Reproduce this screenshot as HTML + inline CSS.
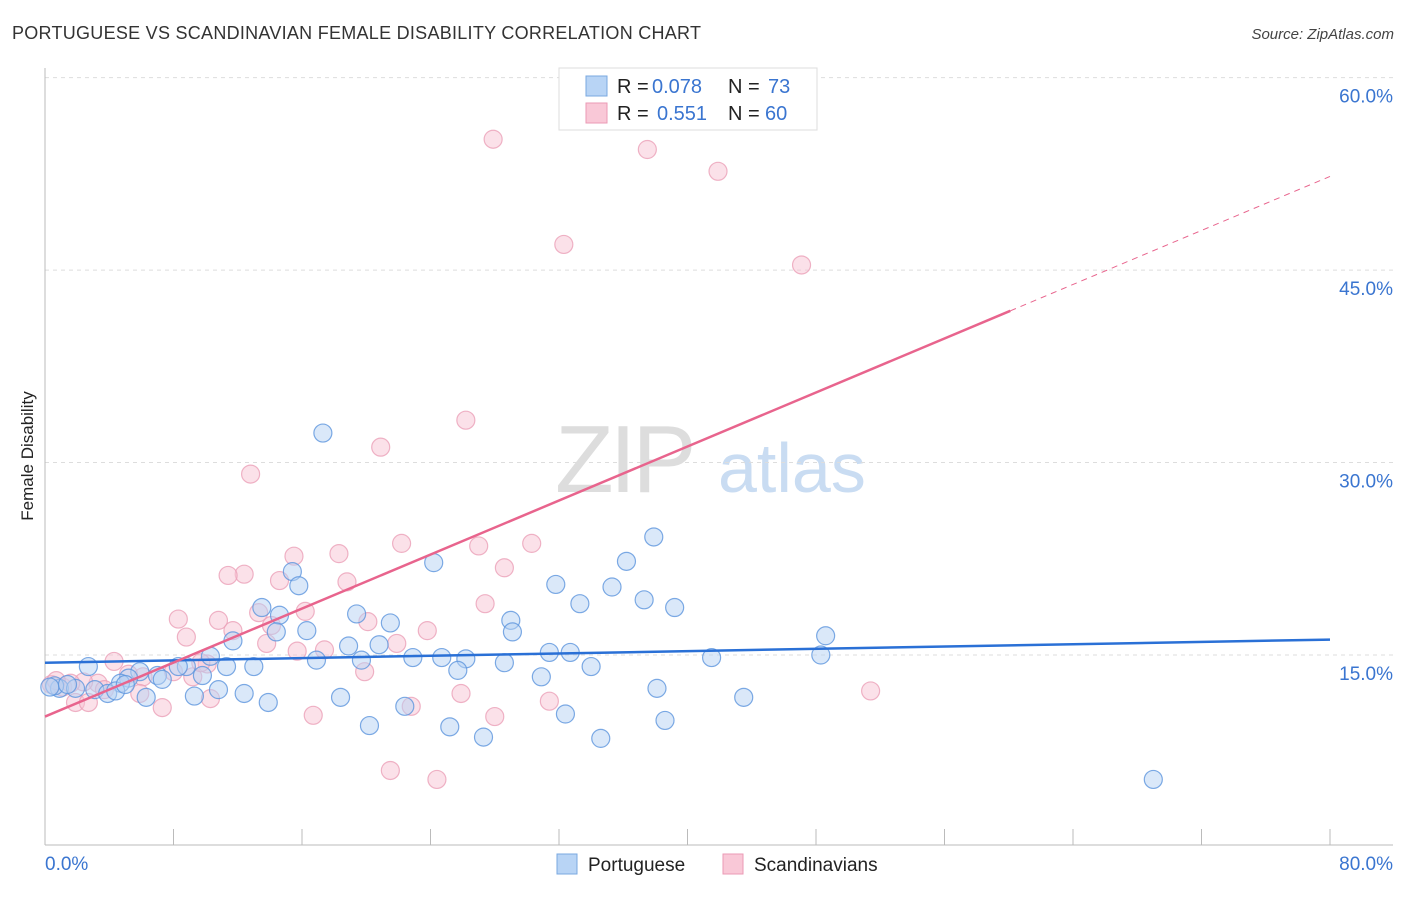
<!DOCTYPE html>
<html><head><meta charset="utf-8"><style>
body{margin:0;background:#fff;font-family:"Liberation Sans",sans-serif;}
svg text{font-family:"Liberation Sans",sans-serif;}
</style></head><body>
<svg id="chart" width="1406" height="892" xmlns="http://www.w3.org/2000/svg">
<text x="12" y="39" font-size="18" fill="#333" textLength="689">PORTUGUESE VS SCANDINAVIAN FEMALE DISABILITY CORRELATION CHART</text>
<text x="1394" y="39" font-size="15" fill="#444" text-anchor="end" font-style="italic">Source: ZipAtlas.com</text>
<text transform="translate(33,456) rotate(-90)" font-size="17" fill="#222" text-anchor="middle">Female Disability</text>
<g><text x="555" y="492" font-size="96" fill="#ddd" font-family="Liberation Serif" letter-spacing="-4">ZIP</text><text x="718" y="492" font-size="70" fill="#c9dcf2">atlas</text></g>
<g id="grid"></g><g id="axes"></g><g id="pts"></g><g id="lines"></g>
<g>
<rect x="559" y="68" width="258" height="62" fill="#fff" stroke="#ddd"/>
<rect x="586" y="76" width="21" height="20" fill="#b8d4f5" stroke="#7aa8e0"/>
<rect x="586" y="103" width="21" height="20" fill="#f9c8d7" stroke="#eb9ab4"/>
<text x="617" y="93" font-size="20" fill="#222">R =</text><text x="652" y="93" font-size="20" fill="#3a75d0">0.078</text>
<text x="728" y="93" font-size="20" fill="#222">N =</text><text x="768" y="93" font-size="20" fill="#3a75d0">73</text>
<text x="617" y="120" font-size="20" fill="#222">R =</text><text x="657" y="120" font-size="20" fill="#3a75d0">0.551</text>
<text x="728" y="120" font-size="20" fill="#222">N =</text><text x="765" y="120" font-size="20" fill="#3a75d0">60</text>
</g>
<g>
<rect x="557" y="854" width="20" height="20" fill="#b8d4f5" stroke="#7aa8e0"/><text x="588" y="871" font-size="19" fill="#222">Portuguese</text>
<rect x="723" y="854" width="20" height="20" fill="#f9c8d7" stroke="#eb9ab4"/><text x="754" y="871" font-size="19" fill="#222">Scandinavians</text>
</g>
</svg>
<script>
const yTicks=[15,30,45,60];
const yTickLabels=["15.0%","30.0%","45.0%","60.0%"];
const xTickCount=10;
const portX=[17.3,37.9,36.2,24.2,15.4,15.8,31.8,35.3,37.3,33.3,13.5,39.2,19.4,14.6,21.5,29.0,29.1,16.3,14.4,11.7,48.6,18.9,20.8,31.4,32.7,10.3,48.3,41.5,22.9,24.7,26.2,19.7,16.9,28.6,34.0,2.7,8.8,11.3,13.0,25.7,8.3,5.9,7.0,5.2,4.7,7.3,30.9,0.9,1.9,3.1,3.9,0.6,10.8,12.4,9.3,6.3,13.9,18.4,38.1,43.5,22.4,32.4,38.6,20.2,25.2,27.3,34.6,69.0,0.3,1.4,4.4,5.0,9.8];
const portY=[32.3,24.2,22.3,22.2,21.5,20.4,20.5,20.3,19.3,19.0,18.7,18.7,18.2,18.1,17.5,17.7,16.8,16.9,16.8,16.1,16.5,15.7,15.8,15.2,15.2,14.9,15.0,14.8,14.8,14.8,14.7,14.6,14.6,14.4,14.1,14.1,14.1,14.1,14.1,13.8,14.1,13.7,13.4,13.2,12.8,13.1,13.3,12.4,12.4,12.3,12.0,12.6,12.3,12.0,11.8,11.7,11.3,11.7,12.4,11.7,11.0,10.4,9.9,9.5,9.4,8.6,8.5,5.3,12.5,12.7,12.2,12.7,13.4];
const scanX=[27.9,37.5,41.9,32.3,47.1,26.2,20.9,12.8,22.2,27.0,30.3,15.5,18.3,28.6,12.4,11.4,18.8,14.6,13.3,16.2,8.3,10.8,27.4,20.1,14.1,23.8,11.7,8.8,13.8,21.9,15.7,17.4,4.3,19.9,10.1,9.2,5.2,8.0,6.1,3.3,2.4,1.1,1.6,3.7,5.9,1.9,2.7,7.3,10.3,25.9,31.4,16.7,22.8,28.0,51.4,21.5,24.4,9.7,0.4,0.7];
const scanY=[55.2,54.4,52.7,47.0,45.4,33.3,31.2,29.1,23.7,23.5,23.7,22.7,22.9,21.8,21.3,21.2,20.7,20.8,18.3,18.4,17.8,17.7,19.0,17.6,17.3,16.9,16.9,16.4,15.9,15.9,15.3,15.4,14.5,13.7,14.3,13.3,13.5,13.7,13.3,12.8,12.9,12.5,12.8,12.3,12.0,11.3,11.3,10.9,11.6,12.0,11.4,10.3,11.0,10.2,12.2,6.0,5.3,14.4,12.7,13.0];
const portTrend=[14.4,16.2];
const scanTrend=[10.2,52.3];
const scanSolidEnd=60.1;
const NS="http://www.w3.org/2000/svg";
const X0=45,X1=1330,Y0=655,PPY=12.83;
function sx(v){return X0+(X1-X0)*v/80;}
function sy(v){return Y0-(v-15)*PPY;}
function mk(p,t,a){const e=document.createElementNS(NS,t);for(const k in a)e.setAttribute(k,a[k]);p.appendChild(e);return e;}
const grid=document.getElementById('grid'),axes=document.getElementById('axes'),pts=document.getElementById('pts'),lines=document.getElementById('lines');
yTicks.forEach((v,i)=>{
 const l=mk(grid,'line',{x1:45,x2:1393,y1:sy(v),y2:sy(v),stroke:'#ddd','stroke-dasharray':'4,4'});
 
 
 const t=mk(grid,'text',{x:1393,y:sy(v)+25,'font-size':19,fill:'#3a75d0','text-anchor':'end'});
 t.textContent=yTickLabels[i];
 
 
});
const ax=mk(axes,'line',{x1:45,x2:1393,y1:845,y2:845,stroke:'#bbb'});


const ay=mk(axes,'line',{x1:45,x2:45,y1:68,y2:845,stroke:'#bbb'});


for(let i=1;i<=xTickCount;i++){const x=sx(i*8);const t=mk(axes,'line',{x1:x,x2:x,y1:829,y2:845,stroke:'#bbb'});
 
 }
[['0.0%',45,'start'],['80.0%',1393,'end']].forEach(a=>{const t=mk(axes,'text',{x:a[1],y:870,'font-size':19,fill:'#3a75d0','text-anchor':a[2]});t.textContent=a[0];
 
 });
function dots(X,Y,f,s,name){for(let i=0;i<X.length;i++){const c=mk(pts,'circle',{cx:sx(X[i]),cy:sy(Y[i]),r:9,fill:f,'fill-opacity':0.5,stroke:s,'stroke-opacity':0.8,'stroke-width':1.2});
 
 }}
dots(scanX,scanY,'#f7c3d3','#eba0b8','scandinavian-point');
dots(portX,portY,'#b6d1f3','#5c95dd','portuguese-point');
const bl=mk(lines,'line',{x1:sx(0),y1:sy(portTrend[0]),x2:sx(80),y2:sy(portTrend[1]),stroke:'#2a70d6','stroke-width':2.5});


const sl=(scanTrend[1]-scanTrend[0])/80;
const pl=mk(lines,'line',{x1:sx(0),y1:sy(scanTrend[0]),x2:sx(scanSolidEnd),y2:sy(scanTrend[0]+sl*scanSolidEnd),stroke:'#e8648d','stroke-width':2.5});


const pd=mk(lines,'line',{x1:sx(scanSolidEnd),y1:sy(scanTrend[0]+sl*scanSolidEnd),x2:sx(80),y2:sy(scanTrend[1]),stroke:'#e8648d','stroke-width':1,'stroke-dasharray':'6,5'});


</script>
</body></html>
